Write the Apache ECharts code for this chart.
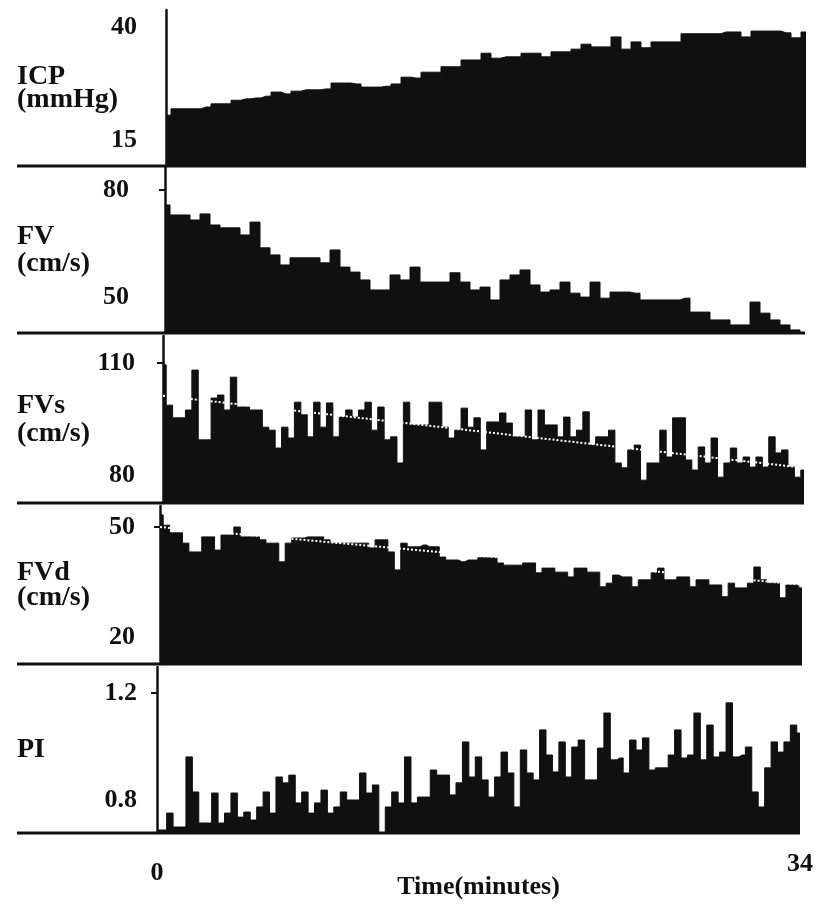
<!DOCTYPE html>
<html>
<head>
<meta charset="utf-8">
<script src="https://cdn.jsdelivr.net/npm/echarts@6.0.0/dist/echarts.min.js"></script>
<style>
html,body{margin:0;padding:0;background:#fff;}
#chart{width:827px;height:904px;}
</style>
</head>
<body>
<div id="chart"></div>
<script>
// ---------------- DATA ----------------
const timeRange = [0, 34];           // minutes
const timeTickLabels = [0, 34];

const icpTicks = [15, 40];
const icpValues = [20.5,21.9,21.9,21.9,22.3,23.0,23.0,23.8,24.1,24.3,24.7,25.6,25.2,25.8,26.1,26.1,26.3,27.6,27.6,27.4,
  26.7,26.7,26.9,27.4,28.9,28.7,30.0,30.0,31.2,31.2,32.7,32.7,34.2,33.1,33.4,33.4,34.2,34.2,33.4,34.5,
  34.5,35.1,36.2,35.6,35.6,37.8,35.1,36.7,35.4,36.7,36.7,36.7,38.5,38.5,38.5,38.5,38.9,38.9,37.8,39.1,
  39.1,39.1,38.7,37.6,38.9];

const fvTicks = [50, 80];
const fvValues = [75.8,73.0,73.0,71.6,73.3,70.2,69.4,69.4,67.4,71.0,63.8,61.8,59.0,61.0,61.0,61.0,59.6,63.2,58.4,57.0,
  54.8,52.0,52.0,56.2,54.8,58.4,54.2,54.2,54.2,56.8,54.2,52.0,52.8,49.2,54.8,56.2,57.6,53.4,51.4,52.0,
  54.2,51.1,50.0,54.2,49.7,51.4,51.4,51.1,49.2,49.2,49.2,49.2,49.7,45.8,45.8,43.6,43.6,42.2,42.2,48.6,
  45.5,43.6,42.2,40.8,40.0];

const fvsTicks = [80, 110];
const fvsValues = [109.5,98.7,95.3,95.3,97.4,108.1,89.4,89.4,100.6,101.4,97.4,106.2,98.2,98.2,97.4,97.4,92.8,92.0,87.2,92.8,
  89.9,99.5,96.1,90.2,99.5,92.8,99.3,90.2,95.5,97.4,95.5,97.4,99.5,92.0,98.2,89.4,90.2,83.2,99.5,93.4,
  93.4,93.4,99.5,99.5,92.8,89.9,92.0,97.9,92.8,95.3,86.7,94.2,94.2,96.6,93.9,90.2,90.2,97.4,89.4,97.4,
  93.4,93.4,90.2,95.5,90.2,92.0,96.9,88.0,90.2,90.2,92.0,83.2,81.9,86.7,88.0,78.6,83.2,83.2,92.0,84.8,
  95.3,95.3,84.0,81.3,87.5,83.2,89.9,79.4,83.2,87.2,83.2,84.8,82.1,84.8,82.1,90.2,85.9,86.7,82.1,79.4,81.3];
const fvsTrend = [101.2, 81.9];      // regression line, start and end

const fvdTicks = [20, 50];
const fvdValues = [53.3,50.5,48.4,48.4,45.6,43.2,43.2,47.3,47.3,43.7,47.8,47.8,50.0,47.3,47.3,47.3,46.5,45.6,45.6,40.5,
  45.6,47.0,47.0,47.3,47.3,47.3,46.5,45.6,45.6,45.6,45.6,45.6,45.6,44.3,46.5,46.5,43.2,38.3,45.6,44.6,
  44.6,45.1,44.6,44.6,41.8,41.0,41.0,40.5,41.0,41.0,41.6,41.6,41.6,40.2,39.6,39.6,39.6,40.2,40.2,37.5,
  38.8,38.8,37.7,37.7,36.4,38.8,38.8,37.7,37.7,33.7,34.7,36.9,36.4,36.4,33.7,35.6,35.6,37.5,38.8,35.6,
  35.6,36.4,36.4,33.7,35.6,35.6,34.2,34.2,31.0,34.7,33.4,33.4,34.7,39.1,35.6,34.7,34.7,30.7,34.2,34.2,33.4];
const fvdTrend = [50.0, 34.3];

const piTicks = [0.8, 1.2];
const piValues = [0.688,0.688,0.751,0.699,0.699,0.961,0.830,0.714,0.714,0.826,0.714,0.751,0.826,0.736,0.755,0.725,0.774,0.830,0.751,0.886,
  0.864,0.893,0.789,0.830,0.751,0.789,0.837,0.751,0.774,0.830,0.800,0.800,0.901,0.826,0.856,0.677,0.774,0.830,0.789,0.961,
  0.789,0.811,0.811,0.912,0.893,0.893,0.819,0.864,1.017,0.886,0.961,0.875,0.811,0.886,0.979,0.901,0.774,0.987,0.901,0.875,
  1.062,0.968,0.905,1.017,0.886,0.998,1.024,0.875,0.875,0.994,1.125,0.950,0.957,0.901,1.024,0.987,1.032,0.912,0.920,0.920,
  0.968,1.062,0.957,0.968,1.125,0.950,1.080,0.961,0.979,1.163,0.961,0.968,0.998,0.830,0.774,0.920,1.017,0.979,1.017,1.080,1.050];

// ---------------- LAYOUT / STYLE ----------------
const W = 827, H = 904;
const FONT = '"Liberation Serif","Times New Roman",serif';
const INK = '#101010';
const NAME_LEFT = 17;      // left edge of panel names
const panels = [
  {name:'ICP\n(mmHg)', values:icpValues, ticks:icpTicks, tickMarks:[],    top:10,  bottom:166, left:166, right:806, min:9.25,  max:43.76, labelRight:137, namePad:4,  lh:23},
  {name:'FV\n(cm/s)',  values:fvValues,  ticks:fvTicks,  tickMarks:[80],  top:167, bottom:333, left:165, right:805, min:39.94, max:86.44, labelRight:129, namePad:20, lh:27},
  {name:'FVs\n(cm/s)', values:fvsValues, ticks:fvsTicks, tickMarks:[110], top:336, bottom:503, left:163, right:804, min:72.47, max:117.24, labelRight:135, namePad:0, lh:28, trend:fvsTrend},
  {name:'FVd\n(cm/s)', values:fvdValues, ticks:fvdTicks, tickMarks:[50],  top:506, bottom:664, left:160, right:802, min:12.67, max:55.72, labelRight:135, namePad:0, lh:25, trend:fvdTrend},
  {name:'PI',          values:piValues,  ticks:piTicks,  tickMarks:[1.2], top:667, bottom:833, left:157, right:800, min:0.6766, max:1.297, labelRight:137, namePad:30, lh:27}
];

const grid = [], xAxis = [], yAxis = [], series = [], graphics = [];
panels.forEach((p, k) => {
  const last = k === panels.length - 1;
  grid.push({left:p.left, right:W - p.right, top:p.top, height:p.bottom - p.top, containLabel:false});
  xAxis.push({
    type:'value', gridIndex:k, min:timeRange[0], max:timeRange[1],
    axisLine:{show:false}, axisTick:{show:false}, splitLine:{show:false},
    axisLabel: last ? {
      show:true, customValues:timeTickLabels, margin:18,
      fontFamily:FONT, fontWeight:'bold', fontSize:26, color:INK,
      formatter: v => v === 0 ? '{a|0}' : '{b|' + v + '}',
      rich:{a:{fontFamily:FONT, fontWeight:'bold', fontSize:26, color:INK, padding:[9,0,0,0]},
            b:{fontFamily:FONT, fontWeight:'bold', fontSize:26, color:INK, padding:[0,0,0,0]}}
    } : {show:false},
    name: last ? 'Time(minutes)' : '',
    nameLocation:'middle', nameGap:41, nameMoveOverlap:false,
    nameTextStyle:{fontFamily:FONT, fontWeight:'bold', fontSize:26, color:INK}
  });
  yAxis.push({
    type:'value', gridIndex:k, min:p.min, max:p.max,
    axisLine:{show:true, lineStyle:{color:INK, width:2.5}},
    axisTick:{show:p.tickMarks.length > 0, customValues:p.tickMarks, length:6, lineStyle:{color:INK, width:2}},
    splitLine:{show:false},
    axisLabel:{show:true, customValues:p.ticks, margin:p.left - p.labelRight, hideOverlap:false,
      fontFamily:FONT, fontWeight:'bold', fontSize:26, color:INK},
    name:p.name, nameLocation:'middle', nameRotate:0, nameGap:p.left - NAME_LEFT, nameMoveOverlap:false,
    nameTextStyle:{fontFamily:FONT, fontWeight:'bold', fontSize:28, lineHeight:p.lh, color:INK,
      align:'left', verticalAlign:'middle', padding:[0,0,p.namePad,0]}
  });
  const n = p.values.length;
  const span = timeRange[1] - timeRange[0];
  series.push({
    type:'line', xAxisIndex:k, yAxisIndex:k, step:'middle', symbol:'none', silent:true,
    data:p.values.map((v, i) => [timeRange[0] + i * span / (n - 1), v]),
    lineStyle:{color:INK, width:1},
    areaStyle:{color:INK, opacity:1, origin:'start'},
    z:2
  });
  if (p.trend) {
    series.push({
      type:'line', xAxisIndex:k, yAxisIndex:k, symbol:'none', silent:true,
      data:[[timeRange[0], p.trend[0]], [timeRange[1], p.trend[1]]],
      lineStyle:{color:'#ffffff', width:2, type:[2,2]},
      z:3
    });
  }
  // separator under each panel
  graphics.push({type:'line', z:10, shape:{x1:NAME_LEFT, y1:p.bottom, x2:p.right, y2:p.bottom},
    style:{stroke:INK, lineWidth:3}});
});

const chart = echarts.init(document.getElementById('chart'), null, {renderer:'canvas', width:W, height:H});
chart.setOption({
  animation:false,
  backgroundColor:'#ffffff',
  grid, xAxis, yAxis, series,
  graphic:graphics
});
</script>
</body>
</html>
